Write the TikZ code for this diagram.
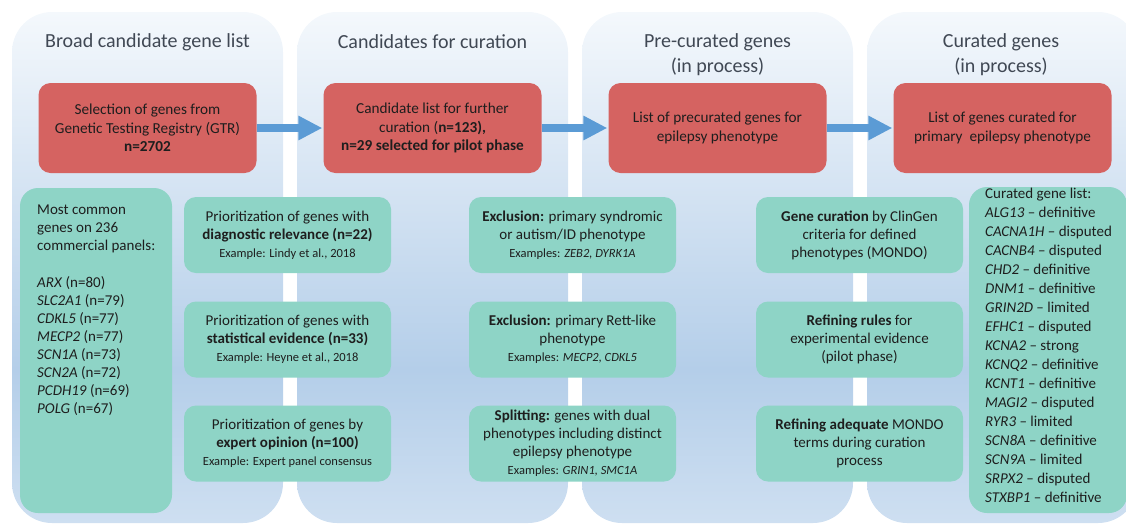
\documentclass[tikz,border=0pt]{standalone}
\usepackage{fontspec}
\setmainfont{Carlito}
\usetikzlibrary{arrows.meta}
\definecolor{boxred}{RGB}{213,99,97}
\definecolor{boxgreen}{RGB}{142,212,198}
\definecolor{flowblue}{RGB}{91,155,213}
\definecolor{headgray}{RGB}{64,72,84}
\definecolor{ink}{RGB}{30,30,30}
\definecolor{ptop}{RGB}{244,248,252}
\definecolor{pmid}{RGB}{180,206,233}
\definecolor{pbot}{RGB}{206,223,241}
\pgfdeclareverticalshading{panelshade}{100bp}{color(0bp)=(pbot); color(25bp)=(pbot); color(40bp)=(pmid); color(75bp)=(ptop); color(100bp)=(ptop)}
\newcommand\exsize{\fontsize{12.5}{17}\selectfont}

\begin{document}
\begin{tikzpicture}[x=1pt, y=-1pt,
  head/.style={text=headgray, align=center, font=\fontsize{20}{25}\selectfont},
  redbox/.style={fill=boxred, text=ink, rounded corners=12pt, minimum width=218pt, minimum height=90pt, align=center, font=\fontsize{15.25}{18.5}\selectfont},
  greenbox/.style={fill=boxgreen, text=ink, rounded corners=12pt, minimum width=207pt, minimum height=76pt, inner sep=1pt, align=center, font=\fontsize{15}{18}\selectfont},
  listbox/.style={fill=boxgreen, rounded corners=18pt},
  listtext/.style={anchor=north west, inner sep=0pt, align=left, text=ink},
  flow/.style={draw=flowblue, line width=8pt, -{Triangle[width=23pt,length=24pt]}, shorten >=1pt}]
\useasboundingbox (0,0) rectangle (1126,523);
\foreach \x in {12,297,582,867}
  \shade[shading=panelshade, rounded corners=40pt] (\x,12) rectangle ++(271,511);

\node[head] (hbroad) at (147.5,42) {Broad candidate gene list};
\node[head] (hcand) at (432.5,42) {Candidates for curation};
\node[head] (hprecur) at (717.5,54.5) {Pre-curated genes\\(in process)};
\node[head] (hcurated) at (1001,54.5) {Curated genes\\(in process)};

\node[redbox] (sel) at (147.5,128) {Selection of genes from\\Genetic Testing Registry (GTR)\\\textbf{n=2702}};
\node[redbox] (cand) at (432.5,128) {Candidate list for further\\curation (\textbf{n=123),}\\\textbf{n=29 selected for pilot phase}};
\node[redbox] (precur) at (717.5,128) {List of precurated genes for\\epilepsy phenotype};
\node[redbox] (curated) at (1002.5,128) {List of genes curated for\\primary\ \ epilepsy phenotype};
\draw[flow] (sel) -- (cand);
\draw[flow] (cand) -- (precur);
\draw[flow] (precur) -- (curated);

\node[listbox, minimum width=152pt, minimum height=325pt] (panels) at (96,350.5) {};
\node[listtext, font=\fontsize{15}{18}\selectfont] (panelgenes) at (37,205) {Most common\\genes on 236\\commercial panels:\\[19pt]
  \textit{ARX} (n=80)\\\textit{SLC2A1} (n=79)\\\textit{CDKL5} (n=77)\\\textit{MECP2} (n=77)\\
  \textit{SCN1A} (n=73)\\\textit{SCN2A} (n=72)\\\textit{PCDH19} (n=69)\\\textit{POLG} (n=67)};

\node[greenbox] (relev) at (287.5,235) {Prioritization of genes with\\\textbf{diagnostic relevance (n=22)}\\{\exsize Example: Lindy et al., 2018}};
\node[greenbox] (stat) at (287.5,339.5) {Prioritization of genes with\\\textbf{statistical evidence (n=33)}\\{\exsize Example: Heyne et al., 2018}};
\node[greenbox] (expert) at (287.5,443.5) {Prioritization of genes by\\\textbf{expert opinion (n=100)}\\{\exsize Example: Expert panel consensus}};

\node[greenbox] (syndr) at (572.5,235) {\textbf{Exclusion:} primary syndromic\\or autism/ID phenotype\\{\exsize Examples: \textit{ZEB2, DYRK1A}}};
\node[greenbox] (rett) at (572.5,339.5) {\textbf{Exclusion:} primary Rett-like\\phenotype\\{\exsize Examples: \textit{MECP2, CDKL5}}};
\node[greenbox] (split) at (572.5,443.5) {\textbf{Splitting:} genes with dual\\phenotypes including distinct\\epilepsy phenotype\\{\exsize Examples: \textit{GRIN1, SMC1A}}};

\node[greenbox] (clingen) at (859.5,235) {\textbf{Gene curation} by ClinGen\\criteria for defined\\phenotypes (MONDO)};
\node[greenbox] (rules) at (859.5,339.5) {\textbf{Refining rules} for\\experimental evidence\\(pilot phase)};
\node[greenbox] (mondo) at (859.5,443.5) {\textbf{Refining adequate} MONDO\\terms during curation\\process};

\node[listbox, minimum width=158pt, minimum height=326pt] (curlist) at (1048,350) {};
\node[listtext, font=\fontsize{15}{19}\selectfont] (curgenes) at (985,188) {Curated gene list:\\
  \textit{ALG13} -- definitive\\\textit{CACNA1H} -- disputed\\\textit{CACNB4} -- disputed\\\textit{CHD2} -- definitive\\
  \textit{DNM1} -- definitive\\\textit{GRIN2D} -- limited\\\textit{EFHC1} -- disputed\\\textit{KCNA2} -- strong\\
  \textit{KCNQ2} -- definitive\\\textit{KCNT1} -- definitive\\\textit{MAGI2} -- disputed\\\textit{RYR3} -- limited\\
  \textit{SCN8A} -- definitive\\\textit{SCN9A} -- limited\\\textit{SRPX2} -- disputed\\\textit{STXBP1} -- definitive};
\end{tikzpicture}
\end{document}
